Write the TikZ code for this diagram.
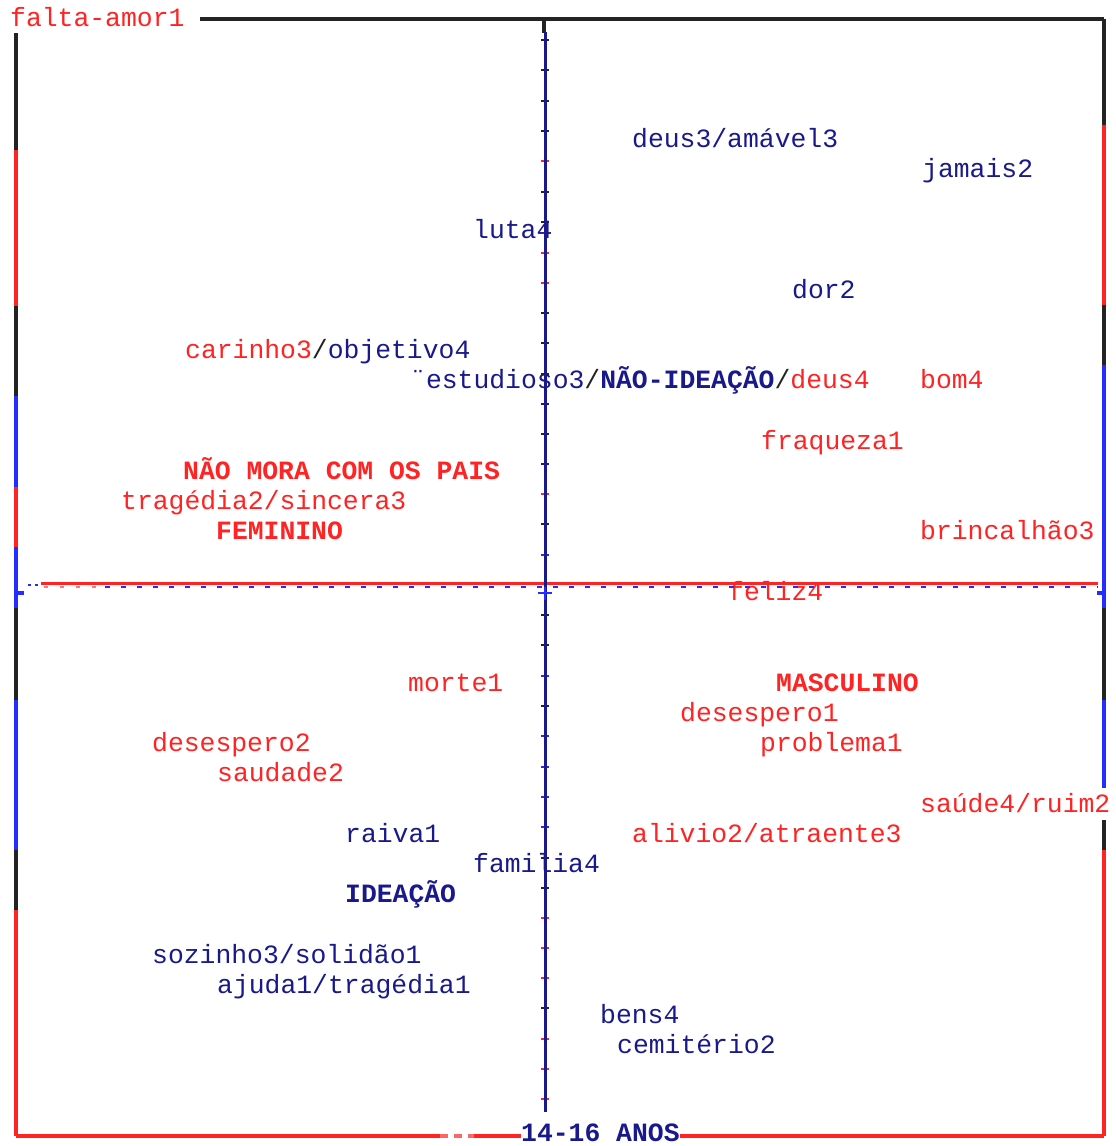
\documentclass[tikz,border=0pt]{standalone}
\usepackage{fontspec}
\setmainfont{Liberation Mono}
\definecolor{nv}{RGB}{25,25,140}
\definecolor{rd}{RGB}{255,35,35}
\definecolor{bl}{RGB}{35,45,255}
\definecolor{dk}{RGB}{35,35,35}
\begin{document}
\begin{tikzpicture}[x=1pt,y=-1pt,
  lbl/.style={anchor=base west,inner sep=0pt,font=\fontsize{26.4}{28}\selectfont},
  lr/.style={lbl,text=rd},
  ln/.style={lbl,text=nv},
  fr/.style={line width=3.2pt},
  ax/.style={line width=3pt},
  tk/.style={line width=2pt}]
\useasboundingbox (0,0) rectangle (1116,1146);
% ---------- labels ----------
\node[lr] (fa) at (10,26) {falta-amor1};
\node[ln] (de3) at (632,147) {deus3/amável3};
\node[ln] (ja) at (922,177) {jamais2};
\node[ln] (lu) at (473,238) {luta4};
\node[ln] (do) at (792,298) {dor2};
\node[lbl] (ca) at (185,358) {\textcolor{rd}{carinho3}\textcolor{dk}{/}\textcolor{nv}{objetivo4}};
\node[lbl] (es) at (410,388) {\textcolor{nv}{¨estudioso3}\textcolor{dk}{/}\textcolor{nv}{\bfseries NÃO-IDEAÇÃO}\textcolor{dk}{/}\textcolor{rd}{deus4}};
\node[lr] (bo) at (920,388) {bom4};
\node[lr] (fr1) at (761,449) {fraqueza1};
\node[lr,font=\fontsize{26.4}{28}\selectfont\bfseries] (nm) at (183,479) {NÃO MORA COM OS PAIS};
\node[lr] (tr) at (121,509) {tragédia2/sincera3};
\node[lr,font=\fontsize{26.4}{28}\selectfont\bfseries] (fe) at (216,539) {FEMININO};
\node[lr] (br) at (920,539) {brincalhão3};
\node[lr] (fl) at (728,600) {feliz4};
\node[lr] (mo) at (408,691) {morte1};
\node[lr,font=\fontsize{26.4}{28}\selectfont\bfseries] (ma) at (776,691) {MASCULINO};
\node[lr] (d1) at (680,721) {desespero1};
\node[lr] (d2) at (152,751) {desespero2};
\node[lr] (pr) at (760,751) {problema1};
\node[lr] (sa) at (217,781) {saudade2};
\node[lr] (su) at (920,812) {saúde4/ruim2};
\node[ln] (ra) at (345,842) {raiva1};
\node[lr] (al) at (632,842) {alivio2/atraente3};
\node[ln] (fm) at (473,872) {familia4};
\node[ln,font=\fontsize{26.4}{28}\selectfont\bfseries] (id) at (345,902) {IDEAÇÃO};
\node[ln] (so) at (152,963) {sozinho3/solidão1};
\node[ln] (aj) at (217,993) {ajuda1/tragédia1};
\node[ln] (be) at (600,1023) {bens4};
\node[ln] (ce) at (617,1053) {cemitério2};
\node[ln,font=\fontsize{26.4}{28}\selectfont\bfseries,text depth=0pt] (an) at (521,1141) {14-16 ANOS};
% ---------- frame ----------
\draw[fr,dk] (200,19) -- (1104,19);
\draw[fr,dk] (544,19) -- (544,33);
% left side
\draw[fr,dk] (16,33) -- (16,150);
\draw[fr,rd] (16,150) -- (16,306);
\draw[fr,dk] (16,306) -- (16,396);
\draw[fr,bl] (16,396) -- (16,487);
\draw[fr,rd] (16,487) -- (16,547);
\draw[fr,bl] (16,547) -- (16,608);
\draw[fr,dk] (16,608) -- (16,700);
\draw[fr,bl] (16,700) -- (16,850);
\draw[fr,dk] (16,850) -- (16,910);
\draw[fr,rd] (16,910) -- (16,1136);
% right side
\draw[fr,dk] (1104,19) -- (1104,125);
\draw[fr,rd] (1104,125) -- (1104,305);
\draw[fr,dk] (1104,305) -- (1104,365);
\draw[fr,bl] (1104,365) -- (1104,608);
\draw[fr,dk] (1104,608) -- (1104,700);
\draw[fr,bl] (1104,700) -- (1104,788);
\draw[fr,dk] (1104,820) -- (1104,850);
\draw[fr,rd] (1104,850) -- (1104,1136);
% bottom
\draw[fr,rd] (16,1136) -- (440,1136);
\draw[fr,rd!70,dash pattern=on 8pt off 6pt] (440,1136) -- (474,1136);
\draw[fr,rd] (474,1136) -- (521,1136);
\draw[fr,rd] (680,1136) -- (1104,1136);
% ---------- axes ----------
\foreach \yy/\cc in {40/dk,70/dk,101/dk,131/dk,161/rd,192/dk,222/dk,253/rd,283/rd,313/dk,343/dk,374/dk,404/nv,434/dk,464/nv,494/rd,524/dk,555/bl,615/dk,645/dk,676/bl,706/dk,736/bl,767/bl,797/bl,827/bl,858/dk,888/dk,918/rd,948/rd,978/rd,1008/dk,1039/rd,1069/rd,1099/rd}
  \draw[tk,\cc] (541,\yy) -- (549,\yy);
\draw[line width=2.6pt,bl,dash pattern=on 5pt off 11pt] (105,587) -- (1098,587);
\draw[line width=2.4pt,rd!60,dash pattern=on 4pt off 12pt] (44,587) -- (105,587);
\draw[line width=2.4pt,bl,dash pattern=on 3pt off 4pt] (28,585) -- (38,585);
\draw[ax,rd] (41,583) -- (1098,583);
\draw[ax,nv] (545,32) -- (545,1112);
\draw[tk,bl] (538,593) -- (552,593);
\draw[tk,bl] (545,587) -- (545,600);
\draw[fr,bl] (16,593) -- (24,593);
\draw[fr,bl] (1097,593) -- (1104,593);
\end{tikzpicture}
\end{document}
